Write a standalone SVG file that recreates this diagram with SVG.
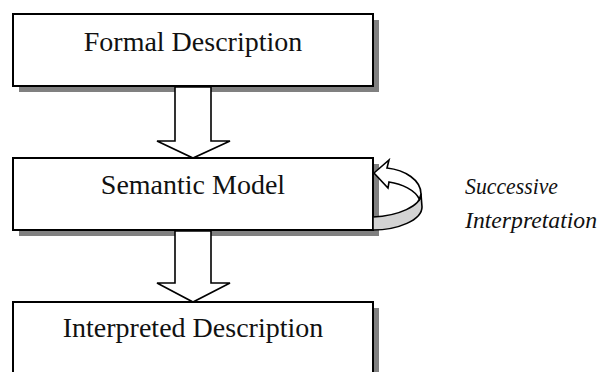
<svg xmlns="http://www.w3.org/2000/svg" width="598" height="372" viewBox="0 0 598 372">
<style>
.box{fill:#fff;stroke:#000;stroke-width:2}
.shadow{fill:#808080}
.lbl{font-family:"Liberation Serif",serif;font-size:28px;fill:#111;text-anchor:middle}
.ital{font-family:"Liberation Serif",serif;font-style:italic;font-size:23px;fill:#111}
.arr{fill:#fff;stroke:#000;stroke-width:1.6;stroke-linejoin:miter}
</style>
<rect width="598" height="372" fill="#fff"/>
<g id="formal">
<rect class="shadow" x="19" y="20" width="360" height="72"/>
<rect class="box" x="13" y="14" width="360" height="72"/>
<text class="lbl" x="193" y="51">Formal Description</text>
</g>
<g id="semantic">
<rect class="shadow" x="19" y="164" width="360" height="72"/>
<rect class="box" x="13" y="158" width="360" height="72"/>
<text class="lbl" x="193" y="194">Semantic Model</text>
</g>
<g id="interpreted">
<rect class="shadow" x="19" y="308" width="360" height="80"/>
<rect class="box" x="13" y="302" width="360" height="90"/>
<text class="lbl" x="193" y="337">Interpreted Description</text>
</g>
<g id="connectors">
<path class="arr" d="M175,87 L211,87 L211,141 L230,141 L193,158 L157,141 L175,141 Z"/>
<path class="arr" d="M175,231 L211,231 L211,283 L230,283 L193,302 L157,283 L175,283 Z"/>
<g id="loop">
<path fill="#d3d3d3" stroke="#000" stroke-width="1.6" stroke-linejoin="round" d="M421,194 C421,206 398,216 373,217 L373,230 C398,230 422,220 422,207 Z"/>
<path class="arr" d="M374,173 L389,160 L387,168 C405,170 421,180 421,194 L419.4,199.2 C415,190 402,184 389,182 L388,188 Z"/>
</g>
</g>
<g id="label">
<text class="ital" x="465" y="194" textLength="93" lengthAdjust="spacingAndGlyphs">Successive</text>
<text class="ital" x="465" y="228" textLength="132" lengthAdjust="spacingAndGlyphs">Interpretation</text>
</g>
</svg>
